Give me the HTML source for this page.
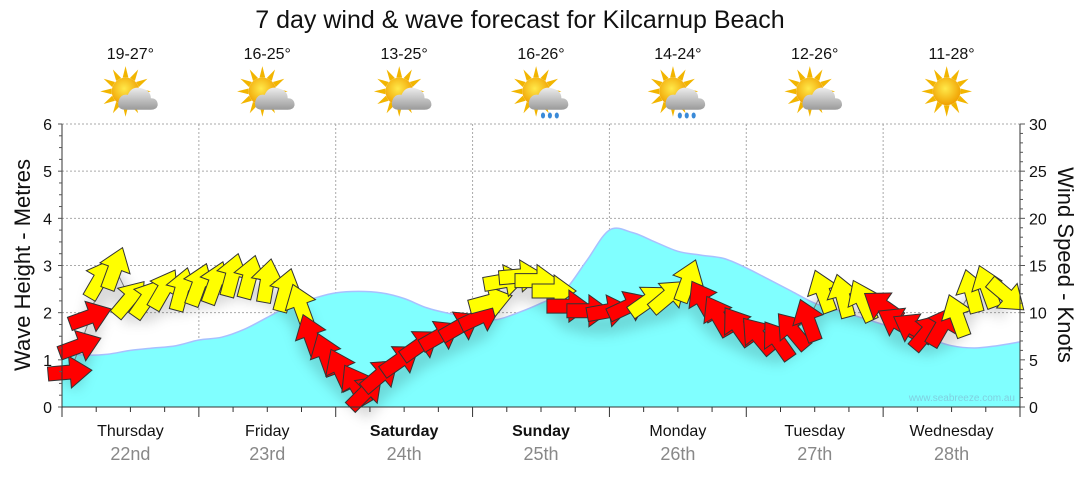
<!DOCTYPE html>
<html><head><meta charset="utf-8"><style>
body{margin:0;background:#fff;width:1080px;height:475px;overflow:hidden;font-family:"Liberation Sans",sans-serif}
</style></head><body>
<svg id="c" width="1080" height="475" viewBox="0 0 1080 475" font-family="Liberation Sans, sans-serif">
<defs>
<filter id="sh" x="-50%" y="-50%" width="200%" height="200%"><feGaussianBlur stdDeviation="6"/></filter>
<radialGradient id="sun" cx="0.45" cy="0.4" r="0.6"><stop offset="0" stop-color="#ffe94a"/><stop offset="1" stop-color="#f0a000"/></radialGradient>
<linearGradient id="cloud" x1="0" y1="0" x2="0" y2="1"><stop offset="0" stop-color="#ececec"/><stop offset="1" stop-color="#9a9a9a"/></linearGradient>
</defs>
<text x="520" y="28" font-size="25" text-anchor="middle" fill="#111">7 day wind &amp; wave forecast for Kilcarnup Beach</text>
<g id="grid"></g>
<g id="wave"></g>
<g id="wind"></g>
<g id="axes"></g>
<g id="icons"></g>
<text x="30" y="265" font-size="22" text-anchor="middle" transform="rotate(-90 30 265)" fill="#111">Wave Height - Metres</text>
<text x="1058" y="265" font-size="22" text-anchor="middle" transform="rotate(90 1058 265)" fill="#111">Wind Speed - Knots</text>
<text x="1015" y="401" font-size="10" text-anchor="end" fill="#7fd0e0">www.seabreeze.com.au</text>
</svg>
<script>
const days=["Thursday","Friday","Saturday","Sunday","Monday","Tuesday","Wednesday"];
const dates=["22nd","23rd","24th","25th","26th","27th","28th"];
const boldDays=[false,false,true,true,false,false,false];
const temps=["19-27°","16-25°","13-25°","16-26°","14-24°","12-26°","11-28°"];
const weather=["cloud","cloud","cloud","rain","rain","cloud","sun"];
const waveTicks=[0,1,2,3,4,5,6];
const windTicks=[0,5,10,15,20,25,30];
const waveHours=[0,4,8,12,16,20,24,28,32,36,40,44,48,52,56,60,64,68,72,76,80,84,88,92,96,100,104,108,112,116,120,124,128,132,136,140,144,148,152,156,160,164,168];
const waveHeights=[1.15,1.1,1.12,1.2,1.25,1.3,1.42,1.48,1.65,1.9,2.15,2.3,2.42,2.45,2.42,2.3,2.1,1.98,1.9,1.85,2.0,2.2,2.45,3.1,3.75,3.7,3.5,3.3,3.22,3.15,2.95,2.7,2.45,2.2,2.05,1.9,1.75,1.6,1.45,1.3,1.25,1.3,1.38];
const windHours=[1.4,3.2,5,6.7,9.3,11.9,14.9,17.9,21,24,26.9,29.9,32.9,36,39.2,41.8,43.6,46.2,48.8,51.5,53.3,55.9,59.4,62.9,66.4,69.9,73.4,75.2,77.8,80.5,83.3,86.3,88.9,92.4,95.9,99.4,102.9,106.4,109.8,112.4,115,118.5,122,125.5,128.1,130.8,133.4,136.9,140.4,143.9,146.5,149.2,151.8,154.3,156.9,159.5,162.2,165.7];
const windSpeeds=[3.7,6.5,9.6,13.6,14.7,11.5,11.5,12.5,12.5,13,13.2,14,13.8,13.4,12.4,10.8,7.6,5.6,4,2.4,1.6,3.4,5,6.6,7.6,8.6,9.6,11.2,13.4,13.9,13.4,12.3,10.7,10.2,10.2,10.7,11.3,11.8,13.4,11.3,9.7,8.6,7.6,7.1,8.1,9.2,12.3,11.8,11.3,10.7,9,8.4,8,8.6,9.7,12.3,12.8,11.8];
const windDirs=[85,70,70,30,20,40,35,30,15,20,20,15,15,10,15,-20,-20,-20,-25,-30,45,50,55,55,60,60,65,75,80,85,90,90,90,90,80,65,55,50,20,-30,-30,-35,-40,-35,-40,-20,-20,-15,-25,-55,-60,-60,40,30,-20,-15,-20,130];
const windColors=["r","r","r","y","y","y","y","y","y","y","y","y","y","y","y","y","r","r","r","r","r","r","r","r","r","r","r","y","y","y","y","y","r","r","r","r","y","y","y","r","r","r","r","r","r","r","y","y","y","r","r","r","r","r","y","y","y","y"];
const X0=62,X1=1020,Y0=407,Y1=124,H=168;
const xs=h=>X0+(X1-X0)*h/H;
const yW=v=>Y0-(Y0-Y1)*v/6;
const yS=v=>Y0-(Y0-Y1)*v/30;
const NS="http://www.w3.org/2000/svg";
function mk(tag,attrs,parent){const e=document.createElementNS(NS,tag);for(const k in attrs)e.setAttribute(k,attrs[k]);parent.appendChild(e);return e;}
const grid=document.getElementById('grid'),axes=document.getElementById('axes'),wave=document.getElementById('wave'),wind=document.getElementById('wind'),icons=document.getElementById('icons');
waveTicks.forEach(t=>{if(t>0){const l=mk('line',{x1:X0,x2:X1,y1:yW(t),y2:yW(t),stroke:'#aaa','stroke-dasharray':'2,2'},grid);

}});
for(let d=1;d<7;d++){const l=mk('line',{x1:xs(d*24),x2:xs(d*24),y1:Y1,y2:Y0,stroke:'#aaa','stroke-dasharray':'2,2'},grid);

}
// smooth wave area (catmull-rom)
const pts=waveHours.map((h,i)=>[xs(h),yW(waveHeights[i])]);
let cp='M'+pts[0][0]+','+pts[0][1];
for(let i=0;i<pts.length-1;i++){const p0=pts[Math.max(0,i-1)],p1=pts[i],p2=pts[i+1],p3=pts[Math.min(pts.length-1,i+2)];
cp+=` C${(p1[0]+(p2[0]-p0[0])/6).toFixed(1)},${(p1[1]+(p2[1]-p0[1])/6).toFixed(1)} ${(p2[0]-(p3[0]-p1[0])/6).toFixed(1)},${(p2[1]-(p3[1]-p1[1])/6).toFixed(1)} ${p2[0].toFixed(1)},${p2[1].toFixed(1)}`;}
const wa=mk('path',{d:'M'+X0+','+Y0+' L'+cp.slice(1)+' L'+X1+','+Y0+'Z',fill:'#80ffff'},wave);


const wl=mk('path',{d:cp,fill:'none',stroke:'#a8c0ff','stroke-width':1.5},wave);


let lp='';windHours.forEach((h,i)=>{lp+=(i?' L':'M')+xs(h).toFixed(1)+','+yS(windSpeeds[i]).toFixed(1);});
const sh=mk('path',{d:lp,fill:'none',stroke:'#000','stroke-opacity':0.15,'stroke-width':20,filter:'url(#sh)',transform:'translate(0,14)'},wind);


const ln=mk('path',{d:lp,fill:'none',stroke:'#777','stroke-width':1},wind);


const arrow='M-7,22 L7,22 L7,0 L16,0 L0,-22 L-16,0 L-7,0 Z';
windHours.forEach((h,i)=>{const a=mk('path',{d:arrow,fill:windColors[i]=='r'?'#ff0000':'#ffff00',stroke:'#333','stroke-width':1,transform:`translate(${xs(h).toFixed(1)},${yS(windSpeeds[i]).toFixed(1)}) rotate(${windDirs[i]})`},wind);

});
mk('line',{x1:X0,x2:X1,y1:Y0,y2:Y0,stroke:'#333'},axes);
mk('line',{x1:X0,x2:X0,y1:Y1,y2:Y0,stroke:'#333'},axes);
mk('line',{x1:X1,x2:X1,y1:Y1,y2:Y0,stroke:'#333'},axes);
for(let v=0;v<=6.001;v+=0.25){const y=yW(v);mk('line',{x1:X0-(Math.abs(v-Math.round(v))<0.01?4:3),x2:X0,y1:y,y2:y,stroke:'#555'},axes);}
waveTicks.forEach(t=>{const e=mk('text',{x:X0-10,y:yW(t)+6,'font-size':16,'text-anchor':'end',fill:'#111'},axes);e.textContent=t;

});
for(let v=0;v<=30;v+=1){const y=yS(v);mk('line',{x1:X1,x2:X1+(v%5==0?5:3),y1:y,y2:y,stroke:'#555'},axes);}
windTicks.forEach(t=>{const e=mk('text',{x:X1+9,y:yS(t)+6,'font-size':16,fill:'#111'},axes);e.textContent=t;

});
for(let h=0;h<=H;h+=6){mk('line',{x1:xs(h),x2:xs(h),y1:Y0,y2:Y0+(h%24==0?10:5),stroke:'#333'},axes);}
days.forEach((d,i)=>{const cx=xs(i*24+12);
const t=mk('text',{x:cx,y:436,'font-size':16,'text-anchor':'middle',fill:'#111','font-weight':boldDays[i]?'bold':'normal'},axes);t.textContent=d;


const t2=mk('text',{x:cx,y:460,'font-size':18,'text-anchor':'middle',fill:'#888'},axes);t2.textContent=dates[i];


const tt=mk('text',{x:cx,y:59,'font-size':16,'text-anchor':'middle',fill:'#111'},icons);tt.textContent=temps[i];


const g=mk('g',{transform:`translate(${cx+2},${96}) scale(1.15)`},icons);


for(let k=0;k<12;k++){const ang=k*30;mk('polygon',{points:'-2.5,-12 2.5,-12 0,-22',fill:'#f2b500',transform:`translate(-6,-4) rotate(${ang})`},g);}
mk('circle',{cx:-6,cy:-4,r:12,fill:'url(#sun)'},g);
if(weather[i]!='sun'){mk('path',{d:'M-6,12 Q-14,12 -12,4 Q-10,-2 -4,-1 Q0,-10 10,-6 Q16,-4 16,2 Q22,2 22,8 Q21,12 16,12 Z',fill:'url(#cloud)'},g);}
if(weather[i]=='rain'){[0,6,12].forEach(dx=>mk('ellipse',{cx:dx,cy:17,rx:1.8,ry:2.6,fill:'#3a8ad8'},g));}
});
</script>
</body></html>
